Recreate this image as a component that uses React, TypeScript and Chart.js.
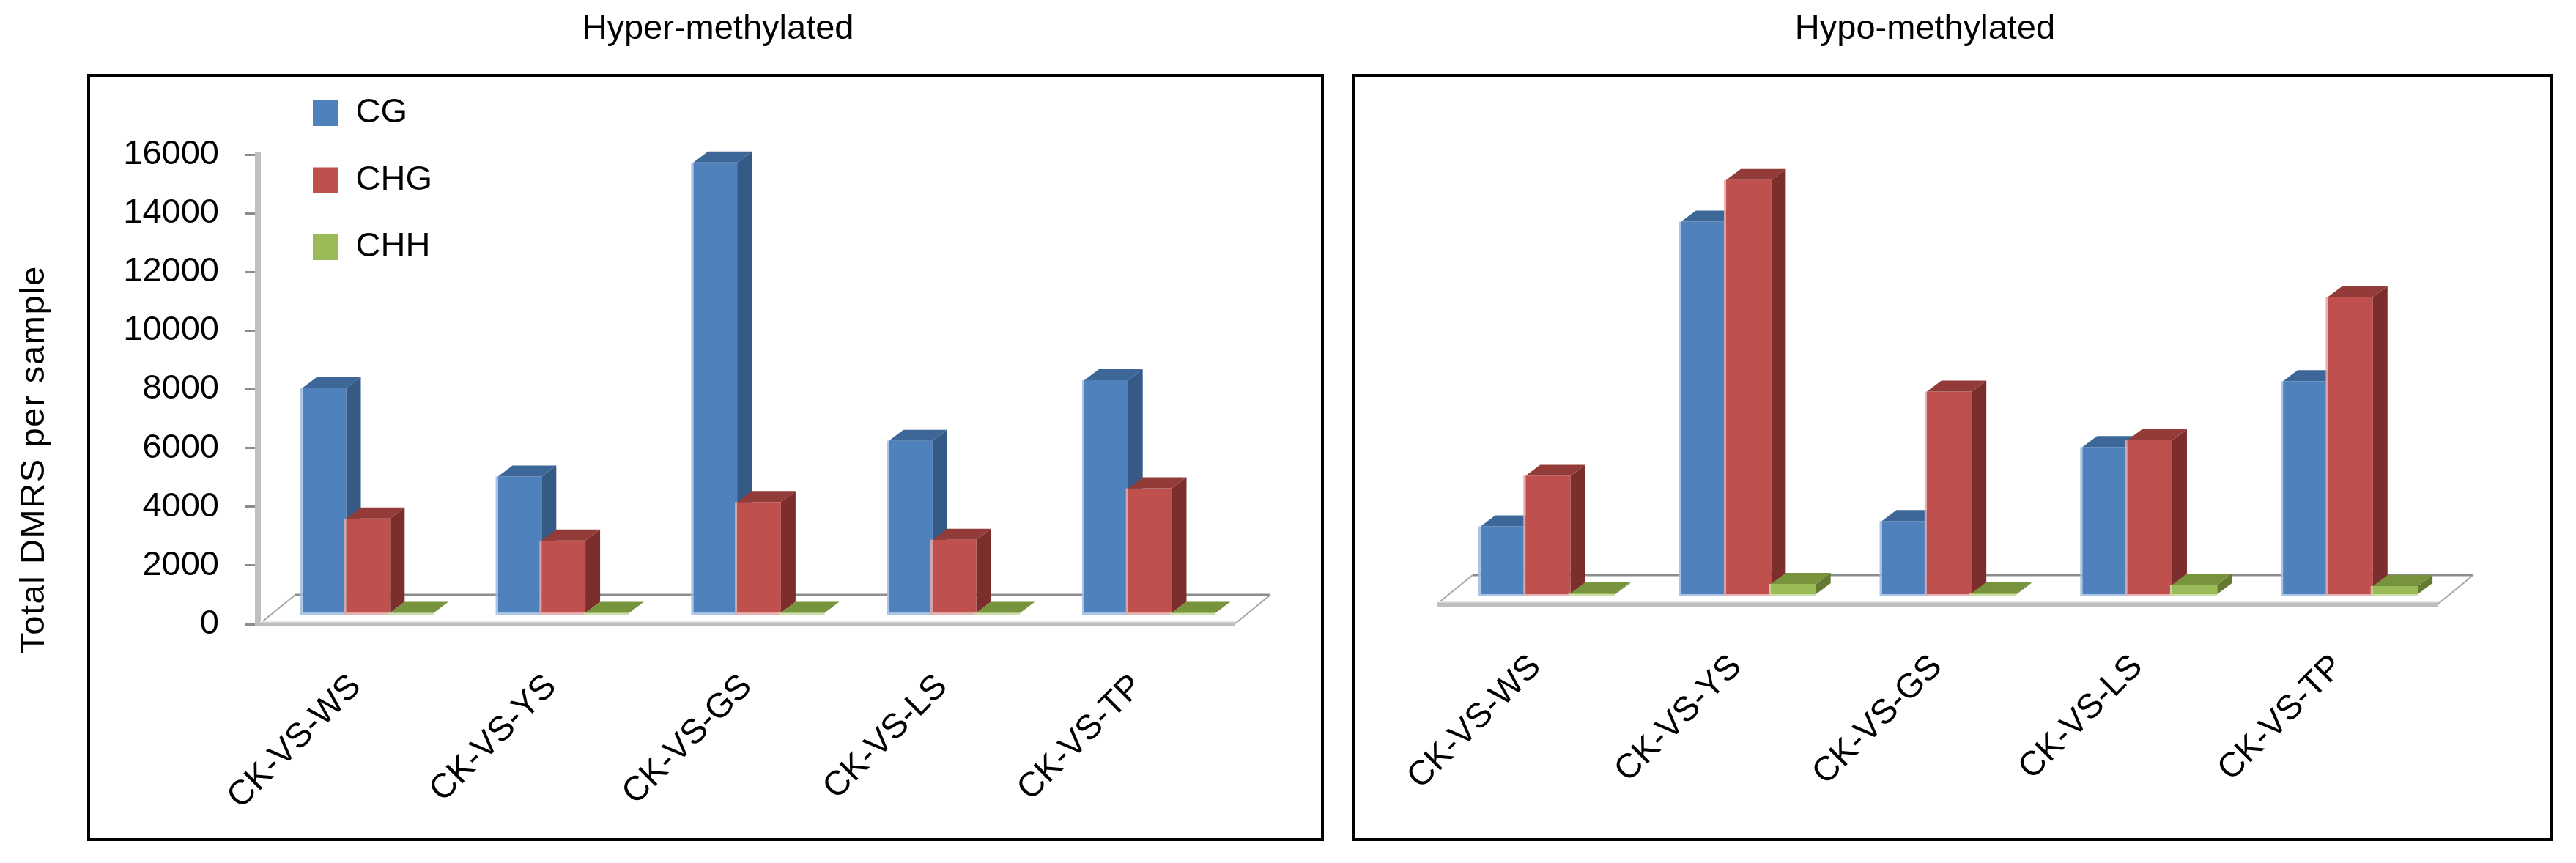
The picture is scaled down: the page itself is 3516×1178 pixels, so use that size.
import React, { useEffect, useRef } from 'react';
import { Chart, registerables } from 'chart.js';

Chart.register(...registerables);

// ---------------- data ----------------
const CATEGORIES = ['CK-VS-WS', 'CK-VS-YS', 'CK-VS-GS', 'CK-VS-LS', 'CK-VS-TP'];
const SERIES = ['CG', 'CHG', 'CHH'];

const HYPER_CG = [7700, 4680, 15380, 5900, 7960];
const HYPER_CHG = [3250, 2500, 3810, 2530, 4280];
const HYPER_CHH = [40, 30, 40, 40, 30];

const HYPO_CG = [2310, 12690, 2490, 5010, 7260];
const HYPO_CHG = [4030, 14110, 6900, 5240, 10130];
const HYPO_CHH = [30, 350, 30, 325, 275];

const Y_MIN = 0;
const Y_MAX = 16000;
const Y_STEP = 2000;

const Y_TITLE = 'Total DMRS per sample';

// ---------------- styles ----------------
const FONT = "'Liberation Sans', Arial, sans-serif";
const FRONT = ['#4F81BD', '#C0504D', '#9BBB59'];
const SIDE = ['#365A86', '#7B2E2C', '#647A33'];
const TOPC = ['#3D6798', '#923B38', '#77933C'];
const EDGE = ['rgba(160,190,225,0.9)', 'rgba(225,170,170,0.9)', 'rgba(200,220,160,0.9)'];

const DEPTH_X = 17; // shift of the bar row behind the floor front edge
const DEPTH_Y = 14;
const BAR_DX = 20; // bar depth
const BAR_DY = 15;
const FLOOR_DX = 48;
const FLOOR_DY = 37;

const HEIGHT = 1178;

type PanelCfg = {
  left: number;
  width: number;
  title: string;
  series: number[][];
  box: { x: number; y: number; w: number; h: number };
  showY: boolean;
  padLeft: number;
  padRight: number;
  yAxisWidth: number;
  titleBottom: number;
  xHeight: number;
  legend: { left: number; top: number } | null;
};

const HYPER_PANEL: PanelCfg = {
  left: 0,
  width: 1960,
  title: 'Hyper-methylated',
  series: [HYPER_CG, HYPER_CHG, HYPER_CHH],
  box: { x: 121, y: 103, w: 1684, h: 1043 },
  showY: true,
  padLeft: 0,
  padRight: 274,
  yAxisWidth: 352,
  titleBottom: 143.1,
  xHeight: 326,
  legend: { left: 382.5, top: 86.5 },
};

const HYPO_PANEL: PanelCfg = {
  left: 1769,
  width: 1717,
  title: 'Hypo-methylated',
  series: [HYPO_CG, HYPO_CHG, HYPO_CHH],
  box: { x: 78, y: 103, w: 1636, h: 1043 },
  showY: false,
  padLeft: 157,
  padRight: 158,
  yAxisWidth: 33,
  titleBottom: 116.1,
  xHeight: 353,
  legend: null,
};

function drawFloor(ctx: CanvasRenderingContext2D, L: number, R: number, y0: number) {
  const fl = L + 3;
  const fy = y0 - 3;
  const by = fy - FLOOR_DY;
  ctx.save();
  ctx.fillStyle = '#FFFFFF';
  ctx.beginPath();
  ctx.moveTo(fl, fy);
  ctx.lineTo(R, fy);
  ctx.lineTo(R + FLOOR_DX, by);
  ctx.lineTo(fl + FLOOR_DX, by);
  ctx.closePath();
  ctx.fill();
  // back edge
  ctx.strokeStyle = '#8C8C8C';
  ctx.lineWidth = 3;
  ctx.beginPath();
  ctx.moveTo(fl + FLOOR_DX, by);
  ctx.lineTo(R + FLOOR_DX, by);
  ctx.stroke();
  // side edges
  ctx.strokeStyle = '#A6A6A6';
  ctx.lineWidth = 2;
  ctx.beginPath();
  ctx.moveTo(fl, fy + 2);
  ctx.lineTo(fl + FLOOR_DX, by);
  ctx.moveTo(R, fy + 2);
  ctx.lineTo(R + FLOOR_DX, by);
  ctx.stroke();
  // front face of the slab
  ctx.fillStyle = '#BEBEBE';
  ctx.fillRect(fl, fy, R - fl, 6);
  ctx.fillStyle = '#E8E8E8';
  ctx.fillRect(fl, fy - 1, R - fl, 1.5);
  ctx.restore();
}

function drawFaces(ctx: CanvasRenderingContext2D, meta: any) {
  const i = meta.index;
  ctx.save();
  for (const el of meta.data) {
    const { x, y, base, width } = el.getProps(['x', 'y', 'base', 'width'], true);
    const l = x - width / 2;
    const r = x + width / 2;
    const top = Math.min(y, base);
    // soft light edge on the front face (left and bottom)
    ctx.fillStyle = EDGE[i];
    ctx.fillRect(l - 3, top, 3, base - top + 3);
    ctx.fillRect(l, base, width, 3);
    ctx.fillStyle = SIDE[i];
    ctx.beginPath();
    ctx.moveTo(r, top);
    ctx.lineTo(r + BAR_DX, top - BAR_DY);
    ctx.lineTo(r + BAR_DX, base - BAR_DY);
    ctx.lineTo(r, base);
    ctx.closePath();
    ctx.fill();
    ctx.fillStyle = TOPC[i];
    ctx.beginPath();
    ctx.moveTo(l, top);
    ctx.lineTo(l + BAR_DX, top - BAR_DY);
    ctx.lineTo(r + BAR_DX, top - BAR_DY);
    ctx.lineTo(r, top);
    ctx.closePath();
    ctx.fill();
  }
  ctx.restore();
}

function makeDecor(p: PanelCfg) {
  return {
    id: 'decor3d',
    beforeDraw(chart: any) {
      const ctx: CanvasRenderingContext2D = chart.ctx;
      ctx.save();
      ctx.strokeStyle = '#000';
      ctx.lineWidth = 4;
      ctx.strokeRect(p.box.x, p.box.y, p.box.w, p.box.h);
      if (p.showY) {
        ctx.translate(59.6, 627);
        ctx.rotate(-Math.PI / 2);
        ctx.fillStyle = '#000';
        ctx.font = `47px ${FONT}`;
        (ctx as any).letterSpacing = '1.6px';
        ctx.textAlign = 'center';
        ctx.textBaseline = 'alphabetic';
        ctx.fillText(Y_TITLE, 0, 0);
      }
      ctx.restore();
    },
    afterLayout(chart: any) {
      // centre the title over the whole panel canvas
      if (chart.titleBlock) {
        chart.titleBlock.left = 0;
        chart.titleBlock.right = p.width;
        chart.titleBlock.width = p.width;
      }
      if (p.legend && chart.legend) {
        const lg = chart.legend;
        lg.left = p.legend.left;
        lg.top = p.legend.top;
        lg.right = lg.left + 500;
        lg.bottom = lg.top + 400;
      }
    },
    beforeDatasetsDraw(chart: any) {
      const ctx: CanvasRenderingContext2D = chart.ctx;
      const area = chart.chartArea;
      const y0 = chart.scales.y.getPixelForValue(0);
      drawFloor(ctx, area.left, area.right, y0);
    },
    // the library's default order draws the rightmost series first; bars are
    // drawn below in left-to-right order so each front face covers the side
    // face of its left neighbour, as in a 3-D column chart
    beforeDatasetDraw() {
      return false;
    },
    afterDatasetsDraw(chart: any) {
      const ctx: CanvasRenderingContext2D = chart.ctx;
      ctx.save();
      ctx.translate(DEPTH_X, -DEPTH_Y);
      const metas = chart
        .getSortedVisibleDatasetMetas()
        .slice()
        .sort((a: any, b: any) => a.index - b.index);
      for (const meta of metas) {
        meta.controller.draw();
        drawFaces(ctx, meta);
      }
      ctx.restore();
    },
  };
}

function buildConfig(p: PanelCfg): any {
  const font = { family: FONT, size: 47, weight: 'normal' as const };
  return {
    type: 'bar',
    data: {
      labels: CATEGORIES,
      datasets: SERIES.map((name, i) => ({
        label: name,
        data: p.series[i],
        backgroundColor: FRONT[i],
        borderWidth: 0,
        clip: false,
      })),
    },
    options: {
      responsive: false,
      animation: false,
      events: [],
      layout: { padding: { left: p.padLeft, right: p.padRight, top: 0, bottom: 0 } },
      datasets: { bar: { barPercentage: 1, categoryPercentage: 0.672 } },
      plugins: {
        title: {
          display: true,
          text: p.title,
          color: '#000',
          font,
          padding: { top: 11.5, bottom: p.titleBottom },
        },
        legend: p.legend
          ? {
              display: true,
              position: 'chartArea',
              align: 'start',
              labels: {
                boxWidth: 35,
                boxHeight: 35,
                padding: 44.5,
                color: '#000',
                textAlign: 'left',
                font,
              },
            }
          : { display: false },
        tooltip: { enabled: false },
      },
      scales: {
        x: {
          grid: { display: false, drawTicks: false },
          border: { display: false },
          ticks: {
            color: '#000',
            font,
            minRotation: 45,
            maxRotation: 45,
            autoSkip: false,
            padding: 58,
          },
          afterFit: (s: any) => {
            s.height = p.xHeight;
          },
        },
        y: {
          display: true,
          min: Y_MIN,
          max: Y_MAX,
          ticks: {
            display: p.showY,
            stepSize: Y_STEP,
            color: '#000',
            font,
            padding: 36,
            callback: (v: any) => String(v),
          },
          grid: {
            display: p.showY,
            drawOnChartArea: false,
            drawTicks: true,
            tickLength: 17,
            color: '#8C8C8C',
            lineWidth: 3,
          },
          border: { display: p.showY, color: '#BFBFBF', width: 8 },
          afterFit: (s: any) => {
            s.width = p.yAxisWidth;
          },
        },
      },
    },
    plugins: [makeDecor(p)],
  };
}

function Panel({ cfg }: { cfg: PanelCfg }) {
  const ref = useRef<HTMLCanvasElement>(null);
  useEffect(() => {
    const chart = new Chart(ref.current as HTMLCanvasElement, buildConfig(cfg));
    return () => chart.destroy();
  }, [cfg]);
  return (
    <canvas
      ref={ref}
      width={cfg.width}
      height={HEIGHT}
      style={{ position: 'absolute', left: cfg.left, top: 0, width: cfg.width, height: HEIGHT, display: 'block' }}
    />
  );
}

export default function App() {
  return (
    <div
      style={{
        position: 'absolute',
        left: 0,
        top: 0,
        width: 3516,
        height: HEIGHT,
        overflow: 'hidden',
        background: '#fff',
      }}
    >
      <Panel cfg={HYPER_PANEL} />
      <Panel cfg={HYPO_PANEL} />
    </div>
  );
}
